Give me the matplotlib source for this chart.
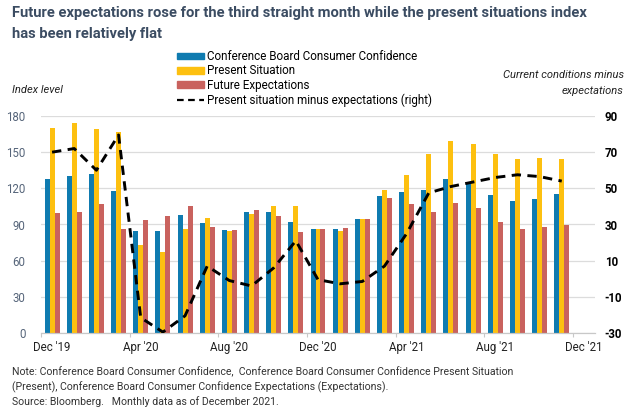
import numpy as np
import matplotlib
matplotlib.use("Agg")
import matplotlib.pyplot as plt
from matplotlib.patches import Patch
from matplotlib.lines import Line2D

plt.rcParams['font.family'] = ['Roboto', 'DejaVu Sans']
plt.rcParams['axes.unicode_minus'] = False

# months Dec 2019 .. Nov 2021 (Dec 2021 slot left empty on the axis)
months = ["Dec '19", "Jan '20", "Feb '20", "Mar '20", "Apr '20", "May '20", "Jun '20",
          "Jul '20", "Aug '20", "Sep '20", "Oct '20", "Nov '20", "Dec '20", "Jan '21",
          "Feb '21", "Mar '21", "Apr '21", "May '21", "Jun '21", "Jul '21", "Aug '21",
          "Sep '21", "Oct '21", "Nov '21", "Dec '21"]

confidence = [127.5, 130, 132, 118, 85, 85, 97.7, 91, 85.6, 100.7, 100.7, 92,
              86.4, 86, 94.4, 114, 116.7, 119, 128, 124, 114.8, 109.3, 111.2, 115.4]
present = [170, 174, 169, 166.5, 72.6, 67.6, 86.4, 95, 85, 98.3, 105.5, 105.5,
           86.4, 84.7, 94.4, 118.7, 131, 148.5, 159, 156.8, 148.5, 144, 145.5, 144]
expectations = [99.4, 100.7, 107, 86.4, 94, 97, 105.5, 88, 85.6, 102, 97.4, 83.6,
                86.4, 87.5, 94.4, 111.8, 107, 100, 107.6, 103.5, 92, 86, 88, 89.4]
spread = [70, 72, 60, 79.5, -21.5, -29.5, -20.5, 7, -1, -4, 6, 21,
          -0.5, -2.8, -1.5, 7, 25, 47.5, 51, 53.5, 56, 57.5, 56.5, 54]

tick_idx = [0, 4, 8, 12, 16, 20, 24]
left_ticks = [0, 30, 60, 90, 120, 150, 180]
right_ticks = [-30, -10, 10, 30, 50, 70, 90]

c_blue = '#0f7bb0'
c_yellow = '#fdc010'
c_red = '#c9625e'
c_title = '#3b4c62'
c_axis = '#56657a'

fig = plt.figure(figsize=(6.3, 4.11), dpi=100)
ax = fig.add_axes([41 / 630, 78 / 411, 554 / 630, 217 / 411])
ax2 = ax.twinx()

x = np.arange(len(confidence))
w = 0.225
ax.bar(x - w, confidence, w, color=c_blue, zorder=2)
ax.bar(x, present, w, color=c_yellow, zorder=2)
ax.bar(x + w, expectations, w, color=c_red, zorder=2)

ax2.plot(x, spread, color='black', lw=2.1, ls=(0, (3.2, 2.2)), zorder=3)

ax.set_xlim(-0.5, len(months) - 0.5)
ax.set_ylim(0, 180)
ax2.set_ylim(-30, 90)

ax.set_yticks(left_ticks)
ax2.set_yticks(right_ticks)
ax.grid(axis='y', color='#dcdcdc', lw=0.9, zorder=0)
ax.set_axisbelow(True)

ax.set_xticks(tick_idx)
ax.set_xticklabels([months[i] for i in tick_idx], fontsize=8.3, color='#222222')
ax.set_xticks(np.array(tick_idx) - 0.5, minor=True)
ax.tick_params(axis='x', which='major', length=0, pad=6)
ax.tick_params(axis='x', which='minor', length=3, color='#c8c8c8', width=0.8)

ax.tick_params(axis='y', length=0, labelsize=8.3, labelcolor=c_axis, pad=11)
ax2.tick_params(axis='y', length=0, labelsize=8.3, pad=7)
for lbl in ax2.get_yticklabels():
    lbl.set_fontweight('bold')

for a in (ax, ax2):
    for s in ('top', 'left', 'right'):
        a.spines[s].set_visible(False)
    a.spines['bottom'].set_color('#c8c8c8')

fig.text(12 / 630, 1 - 13 / 411,
         'Future expectations rose for the third straight month while the present situations index',
         fontsize=10.6, fontweight='bold', color=c_title, va='center')
fig.text(12 / 630, 1 - 34 / 411, 'has been relatively flat',
         fontsize=10.6, fontweight='bold', color=c_title, va='center')

fig.text(12 / 630, 1 - 90 / 411, 'Index level', fontsize=8, style='italic',
         color='#222222', va='center')
fig.text(624 / 630, 1 - 75 / 411, 'Current conditions minus', fontsize=8,
         style='italic', color='#222222', va='center', ha='right')
fig.text(624 / 630, 1 - 91 / 411, 'expectations', fontsize=8,
         style='italic', color='#222222', va='center', ha='right')

handles = [Patch(color=c_blue), Patch(color=c_yellow), Patch(color=c_red),
           Line2D([], [], color='black', lw=1.6, ls=(0, (3, 2)))]
labels = ['Conference Board Consumer Confidence', 'Present Situation',
          'Future Expectations', 'Present situation minus expectations (right)']
fig.legend(handles, labels, loc='upper left', bbox_to_anchor=(177 / 630, 1 - 50 / 411),
           frameon=False, fontsize=8.4, handlelength=2.3, handleheight=0.5,
           handletextpad=0.3, labelspacing=0.12, borderaxespad=0, borderpad=0)

notes = ['Note: Conference Board Consumer Confidence,  Conference Board Consumer Confidence Present Situation',
         '(Present), Conference Board Consumer Confidence Expectations (Expectations).',
         'Source: Bloomberg.   Monthly data as of December 2021.']
for i, t in enumerate(notes):
    fig.text(12 / 630, 1 - (372 + 15 * i) / 411, t, fontsize=7.6, color='#333333',
             va='center')

fig.savefig('out.png', dpi=100)
